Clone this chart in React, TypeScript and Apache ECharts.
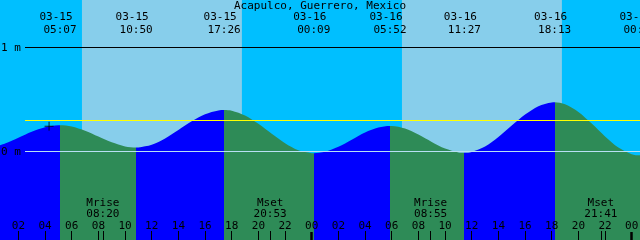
import React, { useEffect, useRef } from 'react';
import * as echarts from 'echarts';

const title = 'Acapulco, Guerrero, Mexico';

// Tide heights (m) read hourly, hours counted from 03-15 00:00
const tideHours = [0, 1, 2, 3, 4, 5, 6, 7, 8, 9, 10, 11, 12, 13, 14, 15, 16, 17, 18, 19, 20, 21, 22, 23, 24, 25, 26, 27, 28, 29, 30, 31, 32, 33, 34, 35, 36, 37, 38, 39, 40, 41, 42, 43, 44, 45, 46, 47, 48, 49];
const tideLevels = [0.035, 0.076, 0.133, 0.191, 0.234, 0.253, 0.241, 0.2, 0.144, 0.088, 0.049, 0.039, 0.065, 0.126, 0.207, 0.291, 0.359, 0.395, 0.392, 0.346, 0.266, 0.171, 0.08, 0.012, -0.016, -0.003, 0.045, 0.114, 0.183, 0.231, 0.246, 0.221, 0.163, 0.092, 0.028, -0.009, -0.005, 0.047, 0.139, 0.249, 0.355, 0.436, 0.472, 0.454, 0.381, 0.269, 0.145, 0.038, -0.026, -0.036];

// High / low tide events
const eventDates = ['03-15', '03-15', '03-15', '03-16', '03-16', '03-16', '03-16', '03-17'];
const eventTimes = ['05:07', '10:50', '17:26', '00:09', '05:52', '11:27', '18:13', '00:37'];
const eventLevels = [0.253, 0.038, 0.399, -0.017, 0.246, -0.013, 0.473, -0.037];

// Moon events
const moonNames = ['Mrise', 'Mset', 'Mrise', 'Mset'];
const moonDates = ['03-15', '03-15', '03-16', '03-16'];
const moonTimes = ['08:20', '20:53', '08:55', '21:41'];

// Sun
const sunDates = ['03-15', '03-16'];
const sunriseTimes = ['06:46', '06:46'];
const sunsetTimes = ['18:46', '18:46'];

// Axis labels
const hourLabelValues = [2, 4, 6, 8, 10, 12, 14, 16, 18, 20, 22, 24, 26, 28, 30, 32, 34, 36, 38, 40, 42, 44, 46, 48];
const midnightValues = [24, 48];
const levelLabelValues = [0, 1];
const mslLevel = 0.3;

// Current-time marker
const nowDate = '03-15';
const nowTime = '04:18';
const nowLevel = 0.243;

const X_MIN = 0.62;
const X_MAX = 48.62;
const Y_MIN = -0.851;
const Y_MAX = 1.457;

const FONT = 'DejaVu Sans Mono';
const FS = 11;
const NIGHT = '#00BFFF';
const DAY = '#87CEEB';
const FLOOD = '#0000FF';
const EBB = '#2E8B57';

function toHours(date: string, time: string): number {
  const d = parseInt(date.slice(3), 10) - 15;
  const [hh, mm] = time.split(':').map(Number);
  return d * 24 + hh + mm / 60;
}

const eventHours = eventDates.map((d, i) => toHours(d, eventTimes[i]));
const moonHours = moonDates.map((d, i) => toHours(d, moonTimes[i]));
const sunrises = sunDates.map((d, i) => toHours(d, sunriseTimes[i]));
const sunsets = sunDates.map((d, i) => toHours(d, sunsetTimes[i]));

const pad2 = (n: number) => (n < 10 ? '0' + n : '' + n);

export default function App() {
  const ref = useRef<HTMLDivElement>(null);
  useEffect(() => {
    if (!ref.current) return;
    const chart = echarts.init(ref.current, undefined, { renderer: 'svg' });

    const points: number[][] = tideHours.map((h, i) => [h, tideLevels[i]]);
    eventHours.forEach((h, i) => points.push([h, eventLevels[i]]));
    points.sort((a, b) => a[0] - b[0]);

    // flood / ebb pieces
    const pieces: any[] = [];
    const n = eventHours.length;
    for (let k = 0; k < n; k++) {
      const rising = eventLevels[k] > eventLevels[k === 0 ? 1 : k - 1];
      const piece: any = { lt: eventHours[k], color: rising ? FLOOD : EBB };
      if (k > 0) piece.gte = eventHours[k - 1];
      pieces.push(piece);
    }
    const lastRising = eventLevels[n - 1] < eventLevels[n - 2];
    pieces.push({ gte: eventHours[n - 1], color: lastRising ? FLOOD : EBB });

    // day / night bands
    const bands: any[] = [];
    let prev = X_MIN;
    sunrises.forEach((sr, i) => {
      bands.push([{ xAxis: prev, itemStyle: { color: NIGHT } }, { xAxis: sr }]);
      bands.push([{ xAxis: sr, itemStyle: { color: DAY } }, { xAxis: sunsets[i] }]);
      prev = sunsets[i];
    });
    bands.push([{ xAxis: prev, itemStyle: { color: NIGHT } }, { xAxis: X_MAX }]);

    const tickValues = hourLabelValues.filter((v) => v % 24 !== 0).concat(moonHours);

    const textBase = { fontFamily: FONT, fontSize: FS, color: '#000' };

    const findIdx = (arr: number[], v: number) => {
      let best = 0;
      arr.forEach((a, i) => {
        if (Math.abs(a - v) < Math.abs(arr[best] - v)) best = i;
      });
      return best;
    };

    const hiddenLine = { show: false, onZero: false };

    chart.setOption({
      animation: false,
      title: {
        text: title,
        left: 'center',
        top: 0.5,
        padding: 0,
        textStyle: { ...textBase, fontWeight: 'normal', lineHeight: 10 },
        z: 20,
      },
      grid: [
        { left: 0, right: 0, top: 0, bottom: 0, show: true, backgroundColor: NIGHT, borderWidth: 0, outerBoundsMode: 'none', containLabel: false },
        { left: 25, right: 0, top: 0, bottom: 0, show: false, outerBoundsMode: 'none', containLabel: false },
      ],
      visualMap: {
        type: 'piecewise',
        show: false,
        dimension: 0,
        seriesIndex: 1,
        pieces,
      },
      xAxis: [
        {
          gridIndex: 0, type: 'value', min: X_MIN, max: X_MAX, position: 'bottom', z: 10,
          axisLine: hiddenLine, splitLine: { show: false },
          axisTick: { show: true, inside: true, length: 9, customValues: tickValues, lineStyle: { color: '#000', width: 1 } },
          axisLabel: {
            show: true, inside: true, margin: 9, customValues: hourLabelValues, verticalAlign: 'bottom', lineHeight: 12, ...textBase,
            formatter: (v: number) => pad2(Math.round(v) % 24),
          },
        },
        {
          gridIndex: 0, type: 'value', min: X_MIN, max: X_MAX, position: 'top', z: 10,
          axisLine: hiddenLine, splitLine: { show: false }, axisTick: { show: false },
          axisLabel: {
            show: true, inside: true, margin: 11, customValues: eventHours, verticalAlign: 'top', lineHeight: 13, ...textBase,
            formatter: (v: number) => {
              const i = findIdx(eventHours, v);
              return '{d|' + eventDates[i] + '}\n{t|' + eventTimes[i] + '}';
            },
            rich: {
              d: { ...textBase, lineHeight: 12, padding: [0, 8, 1, 0] },
              t: { ...textBase, lineHeight: 12 },
            },
          },
        },
        {
          gridIndex: 0, type: 'value', min: X_MIN, max: X_MAX, position: 'bottom', z: 10,
          axisLine: hiddenLine, splitLine: { show: false }, axisTick: { show: false },
          axisLabel: {
            show: true, inside: true, margin: 21.2, customValues: moonHours, verticalAlign: 'bottom', lineHeight: 11, ...textBase,
            formatter: (v: number) => {
              const i = findIdx(moonHours, v);
              return moonNames[i] + '\n' + moonTimes[i];
            },
          },
        },
        {
          gridIndex: 0, type: 'value', min: X_MIN, max: X_MAX, position: 'bottom', z: 10,
          axisLine: hiddenLine, splitLine: { show: false },
          axisTick: { show: true, inside: true, length: 8, customValues: midnightValues, lineStyle: { color: '#000', width: 2.5 } },
          axisLabel: { show: false },
        },
        { gridIndex: 1, type: 'value', min: 0, max: 1, show: false, axisLine: hiddenLine },
      ],
      yAxis: [
        {
          gridIndex: 0, type: 'value', min: Y_MIN, max: Y_MAX, z: 10,
          axisLine: hiddenLine, splitLine: { show: false }, axisTick: { show: false },
          axisLabel: {
            show: true, inside: true, margin: 1, customValues: levelLabelValues, ...textBase,
            formatter: (v: number) => v + ' m',
          },
        },
        { gridIndex: 1, type: 'value', min: Y_MIN, max: Y_MAX, show: false, axisLine: hiddenLine },
      ],
      series: [
        {
          type: 'line', xAxisIndex: 0, yAxisIndex: 0, z: 1, data: [], silent: true,
          markArea: { silent: true, data: bands },
        },
        {
          type: 'line', xAxisIndex: 0, yAxisIndex: 0, z: 2, data: points, smooth: 0.3,
          symbol: 'none', silent: true, clip: true,
          lineStyle: { width: 0 },
          areaStyle: { opacity: 1, origin: 'start' },
        },
        {
          type: 'line', xAxisIndex: 4, yAxisIndex: 1, z: 3, data: [], silent: true,
          markLine: {
            silent: true, symbol: ['none', 'none'], label: { show: false },
            data: [
              { yAxis: levelLabelValues[1], lineStyle: { color: '#000', width: 1, type: 'solid' } },
              { yAxis: levelLabelValues[0], lineStyle: { color: '#B8E0F4', width: 1, type: 'solid' } },
              { yAxis: mslLevel, lineStyle: { color: '#FFFF00', width: 1, type: 'solid' } },
            ],
          },
        },
        {
          type: 'scatter', xAxisIndex: 0, yAxisIndex: 0, z: 4, silent: true,
          data: [[toHours(nowDate, nowTime), nowLevel]],
          symbol: 'path://M0,5H10M5,0V10', symbolSize: 9,
          itemStyle: { color: 'none', borderColor: '#000', borderWidth: 1 },
        },
      ],
    });
    return () => chart.dispose();
  }, []);
  return <div ref={ref} style={{ position: 'fixed', left: 0, top: 0, width: 640, height: 240 }} />;
}
